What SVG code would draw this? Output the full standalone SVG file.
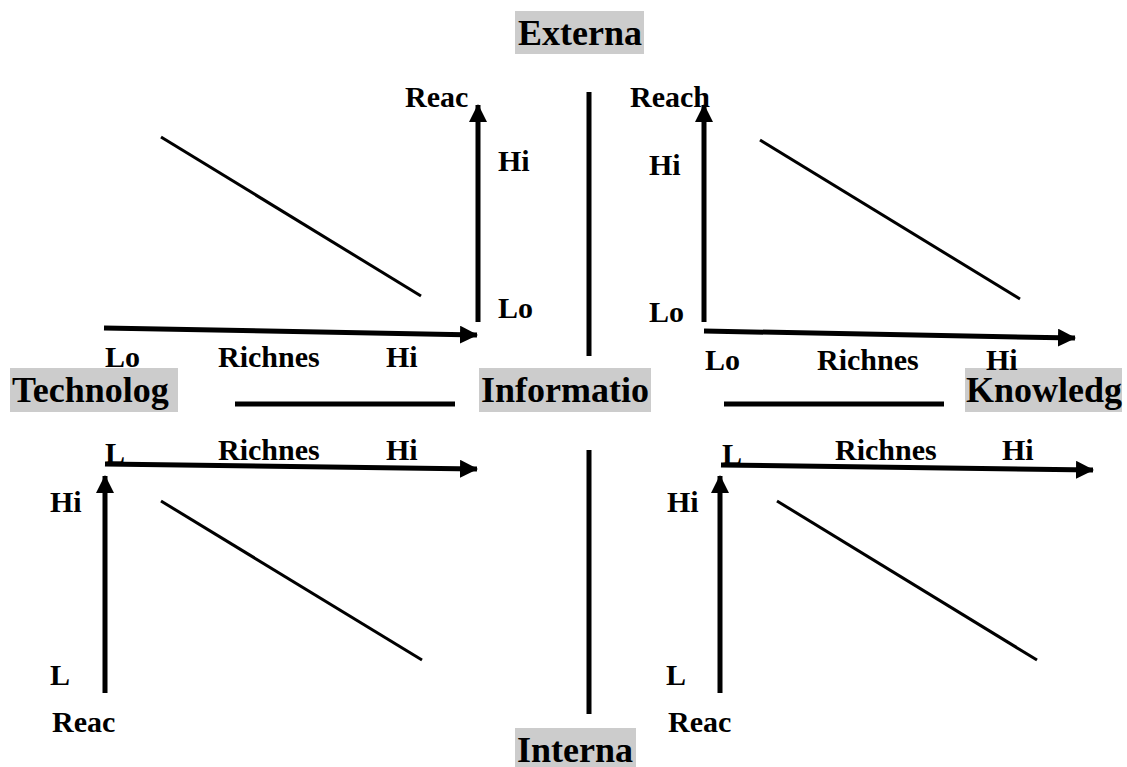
<svg xmlns="http://www.w3.org/2000/svg" width="1127" height="767" viewBox="0 0 1127 767">
<style>
text{font-family:"Liberation Serif","Times New Roman",serif;font-weight:bold;fill:#000}
.big{font-size:36px}
.sm{font-size:30px}
.box{fill:#cccccc}
.ax{stroke:#000;stroke-width:5;fill:none}
.ln{stroke:#000;stroke-width:5;fill:none}
.dg{stroke:#000;stroke-width:3;fill:none}
</style>
<defs>
<marker id="ah" markerUnits="userSpaceOnUse" markerWidth="18" markerHeight="18" refX="17" refY="9" orient="auto">
<path d="M0,0 L18,9 L0,18 z" fill="#000"/>
</marker>
</defs>
<rect width="1127" height="767" fill="#fff"/>
<g id="externa"><rect class="box" x="515" y="11" width="129" height="43"/><text class="big" x="518" y="45">Externa</text></g>
<g id="technolog"><rect class="box" x="10" y="368" width="168" height="44"/><text class="big" x="12" y="402">Technolog</text></g>
<g id="informatio"><rect class="box" x="479" y="368" width="172" height="44"/><text class="big" x="481" y="402">Informatio</text></g>
<g id="knowledg"><rect class="box" x="965" y="368" width="157" height="44"/><text class="big" x="966" y="402">Knowledg</text></g>
<g id="interna"><rect class="box" x="515" y="728" width="121" height="39"/><text class="big" x="517" y="762">Interna</text></g>
<g id="labels-tl">
<text class="sm" x="405" y="107">Reac</text>
<text class="sm" x="498" y="171">Hi</text>
<text class="sm" x="498" y="318">Lo</text>
<text class="sm" x="105" y="367">Lo</text>
<text class="sm" x="218" y="367">Richnes</text>
<text class="sm" x="386" y="367">Hi</text>
</g>
<g id="labels-tr">
<text class="sm" x="630" y="107">Reach</text>
<text class="sm" x="649" y="175">Hi</text>
<text class="sm" x="649" y="322">Lo</text>
<text class="sm" x="705" y="370">Lo</text>
<text class="sm" x="817" y="370">Richnes</text>
<text class="sm" x="986" y="370">Hi</text>
</g>
<g id="labels-bl">
<text class="sm" x="105" y="463">L</text>
<text class="sm" x="218" y="460">Richnes</text>
<text class="sm" x="386" y="460">Hi</text>
<text class="sm" x="50" y="512">Hi</text>
<text class="sm" x="50" y="685">L</text>
<text class="sm" x="52" y="732">Reac</text>
</g>
<g id="labels-br">
<text class="sm" x="722" y="464">L</text>
<text class="sm" x="835" y="460">Richnes</text>
<text class="sm" x="1002" y="460">Hi</text>
<text class="sm" x="667" y="512">Hi</text>
<text class="sm" x="666" y="685">L</text>
<text class="sm" x="668" y="732">Reac</text>
</g>
<g id="connectors">
<line class="ax" x1="478" y1="322" x2="478" y2="105" marker-end="url(#ah)"/>
<line class="ax" x1="104" y1="328" x2="477" y2="335" marker-end="url(#ah)"/>
<line class="ax" x1="704" y1="322" x2="704" y2="105" marker-end="url(#ah)"/>
<line class="ax" x1="704" y1="331" x2="1075" y2="338" marker-end="url(#ah)"/>
<line class="ax" x1="105" y1="464" x2="477" y2="469" marker-end="url(#ah)"/>
<line class="ax" x1="105" y1="693" x2="105" y2="476" marker-end="url(#ah)"/>
<line class="ax" x1="721" y1="465" x2="1093" y2="470" marker-end="url(#ah)"/>
<line class="ax" x1="720" y1="693" x2="720" y2="476" marker-end="url(#ah)"/>
<line class="ln" x1="589" y1="92" x2="589" y2="356"/>
<line class="ln" x1="589" y1="450" x2="589" y2="714"/>
<line class="ln" x1="235" y1="404" x2="455" y2="404"/>
<line class="ln" x1="724" y1="404" x2="944" y2="404"/>
<line class="dg" x1="161" y1="137" x2="421" y2="296"/>
<line class="dg" x1="760" y1="140" x2="1020" y2="299"/>
<line class="dg" x1="161" y1="501" x2="422" y2="660"/>
<line class="dg" x1="777" y1="501" x2="1037" y2="660"/>
</g>
</svg>
